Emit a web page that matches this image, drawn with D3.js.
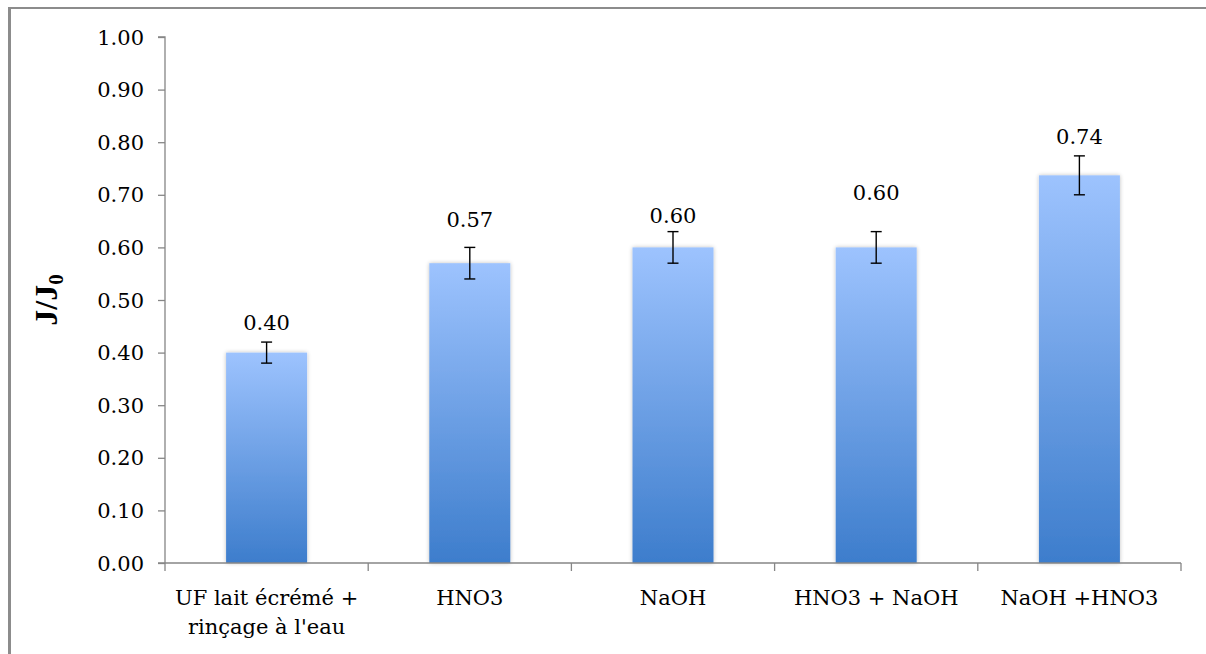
<!DOCTYPE html>
<html>
<head>
<meta charset="utf-8">
<script src="https://cdn.jsdelivr.net/npm/d3@7"></script>
<style>
  html, body { margin: 0; padding: 0; background: #fff; }
  svg { display: block; }
  svg text { font-family: "DejaVu Serif", serif; }
</style>
</head>
<body>
<svg id="chart" width="1206" height="654"></svg>
<script>
// ---- data ----
const categories = ["UF lait écrémé +\nrinçage à l'eau", "HNO3", "NaOH", "HNO3 + NaOH", "NaOH +HNO3"];
const values = [0.40, 0.57, 0.60, 0.60, 0.737];
const errors = [0.02, 0.03, 0.03, 0.03, 0.037];
const valueLabels = ["0.40", "0.57", "0.60", "0.60", "0.74"];
const yTicks = [0, 0.1, 0.2, 0.3, 0.4, 0.5, 0.6, 0.7, 0.8, 0.9, 1.0];

// ---- layout ----
const svg = d3.select("#chart");
const margin = { left: 165, right: 25, top: 37, bottom: 91 };
const W = 1206, H = 654;
const x0 = margin.left, x1 = W - margin.right, y0 = H - margin.bottom, y1 = margin.top;
const labelOffsets = [12, 20, 9, 32, 12]; // px above error-bar top (manual placement in original)
const axisColor = "#868686";
const fs = 21;

// frame (only top and left edges visible)
svg.append("line").attr("x1", 9.5).attr("x2", W).attr("y1", 8).attr("y2", 8)
  .attr("stroke", "#8c8c8c").attr("stroke-width", 2);
svg.append("line").attr("x1", 9.5).attr("x2", 9.5).attr("y1", 7).attr("y2", H)
  .attr("stroke", "#8c8c8c").attr("stroke-width", 3);

const xb = d3.scaleBand().domain(d3.range(categories.length)).range([x0, x1]).padding(0);
const y = d3.scaleLinear().domain([0, 1]).range([y0, y1]);

// gradient
const defs = svg.append("defs");
const grad = defs.append("linearGradient").attr("id", "barGrad")
  .attr("x1", 0).attr("y1", 0).attr("x2", 0).attr("y2", 1);
grad.append("stop").attr("offset", "0%").attr("stop-color", "#9dc3fe");
grad.append("stop").attr("offset", "100%").attr("stop-color", "#3d7dcc");

const shadow = defs.append("filter").attr("id", "shadow")
  .attr("x", "-20%").attr("y", "-5%").attr("width", "140%").attr("height", "110%");
shadow.append("feGaussianBlur").attr("in", "SourceAlpha").attr("stdDeviation", 2.2).attr("result", "b");
shadow.append("feComponentTransfer").attr("in", "b").attr("result", "b2")
  .append("feFuncA").attr("type", "linear").attr("slope", 0.25);
const merge = shadow.append("feMerge");
merge.append("feMergeNode").attr("in", "b2");
merge.append("feMergeNode").attr("in", "SourceGraphic");

// bars
svg.append("g").selectAll("rect").data(values).join("rect")
  .attr("x", (d, i) => xb(i) + xb.bandwidth() / 2 - 40.5)
  .attr("width", 81)
  .attr("y", d => y(d))
  .attr("height", d => y(0) - y(d))
  .attr("fill", "url(#barGrad)")
  .attr("filter", "url(#shadow)");

// y axis
const yAxis = d3.axisLeft(y).tickValues(yTicks).tickFormat(d3.format(".2f")).tickSize(7).tickPadding(14);
const gy = svg.append("g").attr("transform", `translate(${x0},0)`).call(yAxis)
  .attr("font-family", null).attr("font-size", null);
gy.select(".domain").attr("stroke", axisColor).attr("stroke-width", 1.3).attr("d", `M-7,${y1}H0V${y0}`);
gy.selectAll(".tick line").attr("stroke", axisColor).attr("stroke-width", 1.3);
gy.selectAll(".tick text").style("font-size", fs + "px").attr("fill", "#000").attr("dy", "0.34em");

// x axis
const gx = svg.append("g").attr("transform", `translate(0,${y0})`);
gx.append("line").attr("x1", x0 - 7).attr("x2", x1).attr("y1", 0).attr("y2", 0)
  .attr("stroke", axisColor).attr("stroke-width", 1.5);
gx.selectAll("line.tk").data(d3.range(categories.length + 1)).join("line").attr("class", "tk")
  .attr("x1", i => x0 + i * xb.step()).attr("x2", i => x0 + i * xb.step())
  .attr("y1", 0).attr("y2", 8).attr("stroke", axisColor).attr("stroke-width", 1.3);
gx.selectAll("text").data(categories).join("text")
  .attr("text-anchor", "middle")
  .style("font-size", fs + "px").attr("fill", "#000")
  .each(function (d, i) {
    const t = d3.select(this);
    d.split("\n").forEach((line, k) => {
      t.append("tspan").attr("x", xb(i) + xb.bandwidth() / 2).attr("y", 42 + k * 29).text(line);
    });
  });

// error bars
const eb = svg.append("g").attr("stroke", "#000").attr("stroke-width", 1.4);
values.forEach((v, i) => {
  const cx = xb(i) + xb.bandwidth() / 2;
  const top = y(v + errors[i]), bot = y(v - errors[i]);
  eb.append("line").attr("x1", cx).attr("x2", cx).attr("y1", top).attr("y2", bot);
  eb.append("line").attr("x1", cx - 5.5).attr("x2", cx + 5.5).attr("y1", top).attr("y2", top);
  eb.append("line").attr("x1", cx - 5.5).attr("x2", cx + 5.5).attr("y1", bot).attr("y2", bot);
});

// value labels
svg.append("g").selectAll("text").data(values).join("text")
  .attr("x", (d, i) => xb(i) + xb.bandwidth() / 2)
  .attr("y", (d, i) => y(d + errors[i]) - labelOffsets[i])
  .attr("text-anchor", "middle")
  .style("font-size", fs + "px").attr("fill", "#000")
  .text((d, i) => valueLabels[i]);

// y title J/J0
const yt = svg.append("text")
  .attr("transform", `translate(57,${(y0 + y1) / 2}) rotate(-90)`)
  .attr("text-anchor", "middle")
  .style("font-family", "'Liberation Serif', serif")
  .style("font-size", "32px").attr("font-weight", "bold").attr("fill", "#000");
yt.append("tspan").text("J/J");
yt.append("tspan").style("font-size", "21px").attr("dy", 6).text("0");
</script>
</body>
</html>
